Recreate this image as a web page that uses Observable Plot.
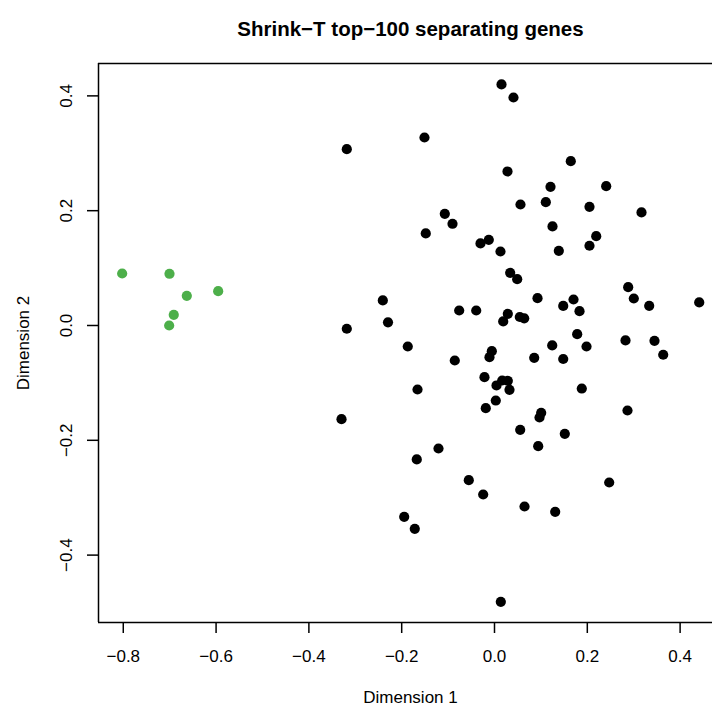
<!DOCTYPE html>
<html>
<head>
<meta charset="utf-8">
<script src="https://cdn.jsdelivr.net/npm/d3@7"></script>
<script src="https://cdn.jsdelivr.net/npm/@observablehq/plot@0.6"></script>
<style>
  html, body { margin: 0; padding: 0; background: #fff; overflow: hidden; }
  #chart svg { display: block; }
</style>
</head>
<body>
<div id="chart"></div>
<script>
const title = "Shrink\u2212T top\u2212100 separating genes";
const xLabel = "Dimension 1";
const yLabel = "Dimension 2";
const xTicks = [-0.8, -0.6, -0.4, -0.2, 0.0, 0.2, 0.4];
const yTicks = [-0.4, -0.2, 0.0, 0.2, 0.4];
const xDomain = [-0.8534, 0.4698];
const yDomain = [-0.5174, 0.4564];

// group 1 (green)
const greenX = [-0.8024, -0.7004, -0.6631, -0.5955, -0.6912, -0.7011];
const greenY = [0.0906, 0.0901, 0.0517, 0.0598, 0.0186, 0.0000];

// group 2 (black)
const blackX = [0.0151, 0.0409, -0.1509, -0.3183, 0.1644, 0.0280, 0.1207, 0.2407, 0.0560, 0.1106,
  0.2047, 0.3168, -0.1071, -0.0905, -0.1481, 0.1250, 0.2192, 0.2047, 0.1386, -0.0302,
  -0.0123, 0.0129, 0.0338, 0.0489, -0.2407, -0.2295, -0.3183, -0.0761, -0.0394, 0.0927,
  0.1481, 0.1703, 0.1832, 0.2881, 0.3002, 0.3334, 0.4412, 0.0287, 0.0188, 0.0545,
  0.0640, 0.1782, 0.1244, 0.1983, 0.2823, 0.3448, 0.3636, -0.1869, -0.0856, -0.0058,
  -0.0108, 0.0856, 0.1481, -0.0216, 0.0043, 0.0166, 0.0287, 0.0323, 0.0028, -0.0188,
  -0.1659, -0.3297, 0.1881, 0.2866, 0.1006, 0.0970, 0.0554, 0.1515, 0.0942, -0.1207,
  -0.1675, -0.0554, -0.0244, 0.2472, 0.0647, 0.1308, -0.1946, -0.1718, 0.0136];
const blackY = [0.4199, 0.3972, 0.3275, 0.3071, 0.2862, 0.2683, 0.2416, 0.2427, 0.2108, 0.2148,
  0.2068, 0.1969, 0.1946, 0.1772, 0.1603, 0.1725, 0.1556, 0.1389, 0.1301, 0.1429,
  0.1493, 0.1289, 0.0918, 0.0807, 0.0436, 0.0056, -0.0057, 0.0261, 0.0261, 0.0476,
  0.0340, 0.0453, 0.0249, 0.0667, 0.0470, 0.0343, 0.0401, 0.0204, 0.0070, 0.0148,
  0.0125, -0.0152, -0.0348, -0.0366, -0.0261, -0.0267, -0.0510, -0.0366, -0.0610, -0.0448,
  -0.0552, -0.0563, -0.0584, -0.0901, -0.1045, -0.0958, -0.0963, -0.1120, -0.1307, -0.1441,
  -0.1115, -0.1632, -0.1098, -0.1481, -0.1521, -0.1603, -0.1817, -0.1887, -0.2103, -0.2143,
  -0.2334, -0.2695, -0.2944, -0.2735, -0.3153, -0.3246, -0.3333, -0.3542, -0.4814];

const green = greenX.map((x, i) => ({x, y: greenY[i]}));
const black = blackX.map((x, i) => ({x, y: blackY[i]}));
const fmt = d3.format(".1f");

const chart = Plot.plot({
  width: 712,
  height: 708,
  marginLeft: 98,
  marginRight: 0,
  marginTop: 63,
  marginBottom: 86,
  style: {fontFamily: "'Liberation Sans', Arial, Helvetica, sans-serif", fontSize: "17px", background: "#fff", color: "#000"},
  x: {domain: xDomain, axis: null},
  y: {domain: yDomain, axis: null},
  marks: [
    Plot.axisX({ticks: xTicks, tickSize: 11, tickPadding: 16, tickFormat: fmt, label: null, strokeWidth: 1.5, fontSize: 17}),
    Plot.axisY({ticks: yTicks, tickSize: 11, tickFormat: () => "", label: null, strokeWidth: 1.5}),
    Plot.text(yTicks, {y: d => d, text: d => fmt(d), frameAnchor: "left", dx: -31.5, rotate: -90, textAnchor: "middle", lineAnchor: "middle", fontSize: 17}),
    Plot.ruleY([yDomain[0], yDomain[1]], {strokeWidth: 1.5}),
    Plot.ruleX([xDomain[0]], {strokeWidth: 1.5}),
    Plot.dot(black, {x: "x", y: "y", r: 5.1, fill: "#000", stroke: "none"}),
    Plot.dot(green, {x: "x", y: "y", r: 5.1, fill: "#4DAF4A", stroke: "none"}),
    Plot.text([title], {frameAnchor: "top", text: d => d, dy: -28, dx: 5, lineAnchor: "bottom", fontWeight: "bold", fontSize: 20.5}),
    Plot.text([xLabel], {frameAnchor: "bottom", text: d => d, dy: 75, dx: 5, lineAnchor: "middle", fontSize: 17}),
    Plot.text([yLabel], {frameAnchor: "left", text: d => d, dx: -75, rotate: -90, lineAnchor: "middle", textAnchor: "middle", fontSize: 17})
  ]
});
document.getElementById("chart").appendChild(chart);
</script>
</body>
</html>
